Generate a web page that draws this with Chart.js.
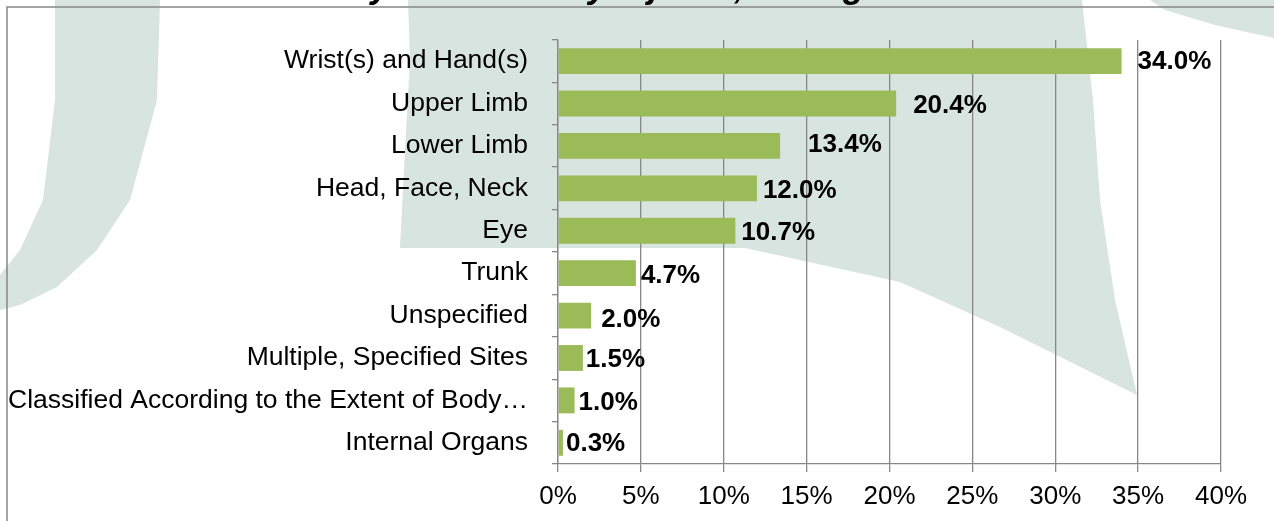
<!DOCTYPE html>
<html>
<head>
<meta charset="utf-8">
<script src="https://cdn.jsdelivr.net/npm/chart.js@4.4.1/dist/chart.umd.min.js"></script>
<style>
    html, body { margin: 0; padding: 0; background: #ffffff; overflow: hidden; }
    #wrap { position: relative; width: 1274px; height: 521px; }
    #titulo {
        position: absolute; left: -10px; top: -32px;
        font: italic bold 35px "Liberation Sans", Arial, sans-serif;
        line-height: 35px; white-space: nowrap; color: #000; z-index: 2;
    }
</style>
</head>
<body>
<div id="wrap">
    <div id="titulo">Work-Related Claims by Part of Body Injured, Michigan 2013</div>
    <canvas id="grafico"></canvas>
</div>
<script>
// ===== DADOS =====
const partes = [
    "Wrist(s) and Hand(s)",
    "Upper Limb",
    "Lower Limb",
    "Head, Face, Neck",
    "Eye",
    "Trunk",
    "Unspecified",
    "Multiple, Specified Sites",
    "Classified According to the Extent of Body\u2026",
    "Internal Organs"
];
const percentuais = [34.0, 20.4, 13.4, 12.0, 10.7, 4.7, 2.0, 1.5, 1.0, 0.3];
const ticksX = [0, 5, 10, 15, 20, 25, 30, 35, 40];

// ajuste fino dos rotulos (px) como no original
const rotuloDx = [16, 17, 28, 6, 6, 5, 10, 3, 4, 3];
const rotuloDy = [1, 2, -1, 2, 2, 3, 4, 2, 2, 1];

const CINZA = "#878787";
const VERDE = "#9bbb59";
const MARCA = "#d7e4df";
const FONTE = "'Liberation Sans', Arial, sans-serif";

// ===== FUNDO (marca d'agua + moldura) =====
const fundo = {
    id: "fundo",
    beforeDraw(chart) {
        const ctx = chart.ctx;
        ctx.save();
        ctx.fillStyle = "#ffffff";
        ctx.fillRect(0, 0, chart.width, chart.height);

        const formas = [
            [[55,0],[160,0],[157,100],[130,200],[97,250],[57,287],[20,305],[0,310],[0,275],[20,250],[43,200],[55,100]],
            [[408,0],[1082,0],[1093,100],[1100,200],[1115,300],[1137,395],[1000,327],[900,282],[745,248],[400,248],[405,150],[410,60]],
            [[1150,0],[1274,0],[1274,38],[1215,25],[1165,10]]
        ];
        ctx.fillStyle = MARCA;
        formas.forEach(f => {
            ctx.beginPath();
            f.forEach((p, i) => i ? ctx.lineTo(p[0], p[1]) : ctx.moveTo(p[0], p[1]));
            ctx.closePath();
            ctx.fill();
        });

        ctx.strokeStyle = CINZA;
        ctx.lineWidth = 1.5;
        ctx.strokeRect(7, 7, chart.width + 50, chart.height + 50);
        ctx.restore();
    }
};

// ===== ROTULOS DAS BARRAS =====
const rotulos = {
    id: "rotulos",
    afterDatasetsDraw(chart) {
        const ctx = chart.ctx;
        const meta = chart.getDatasetMeta(0);
        ctx.save();
        ctx.font = "bold 26px " + FONTE;
        ctx.fillStyle = "#000";
        ctx.textAlign = "left";
        ctx.textBaseline = "middle";
        meta.data.forEach((barra, i) => {
            const txt = percentuais[i].toFixed(1) + "%";
            ctx.fillText(txt, barra.x + rotuloDx[i], barra.y + rotuloDy[i]);
        });
        ctx.restore();
    }
};

const ctx = document.getElementById("grafico").getContext("2d");

window.grafico = new Chart(ctx, {
    type: "bar",
    data: {
        labels: partes,
        datasets: [{
            data: percentuais,
            backgroundColor: VERDE,
            borderWidth: 0,
            barPercentage: 0.61,
            categoryPercentage: 1.0
        }]
    },
    options: {
        indexAxis: "y",
        responsive: true,
        maintainAspectRatio: false,
        animation: false,
        layout: { padding: { top: 36, right: 53, left: 0, bottom: 0 } },
        plugins: {
            legend: { display: false },
            tooltip: { enabled: false }
        },
        scales: {
            x: {
                min: 0,
                max: 40,
                afterBuildTicks: s => { s.ticks = ticksX.map(v => ({ value: v })); },
                afterFit: s => { s.height = 57; },
                ticks: {
                    callback: v => v + "%",
                    color: "#000",
                    font: { size: 26, family: FONTE },
                    padding: 9,
                    maxRotation: 0
                },
                grid: { color: CINZA, lineWidth: 1.3, tickLength: 8 },
                border: { color: CINZA, width: 1.3 }
            },
            y: {
                afterFit: s => { s.width = 558; },
                ticks: {
                    color: "#000",
                    font: { size: 26.5, family: FONTE },
                    padding: 24,
                    autoSkip: false
                },
                grid: {
                    offset: true,
                    drawOnChartArea: false,
                    color: CINZA,
                    lineWidth: 1.3,
                    tickLength: 6
                },
                border: { color: CINZA, width: 1.3 }
            }
        }
    },
    plugins: [fundo, rotulos]
});
</script>
</body>
</html>
